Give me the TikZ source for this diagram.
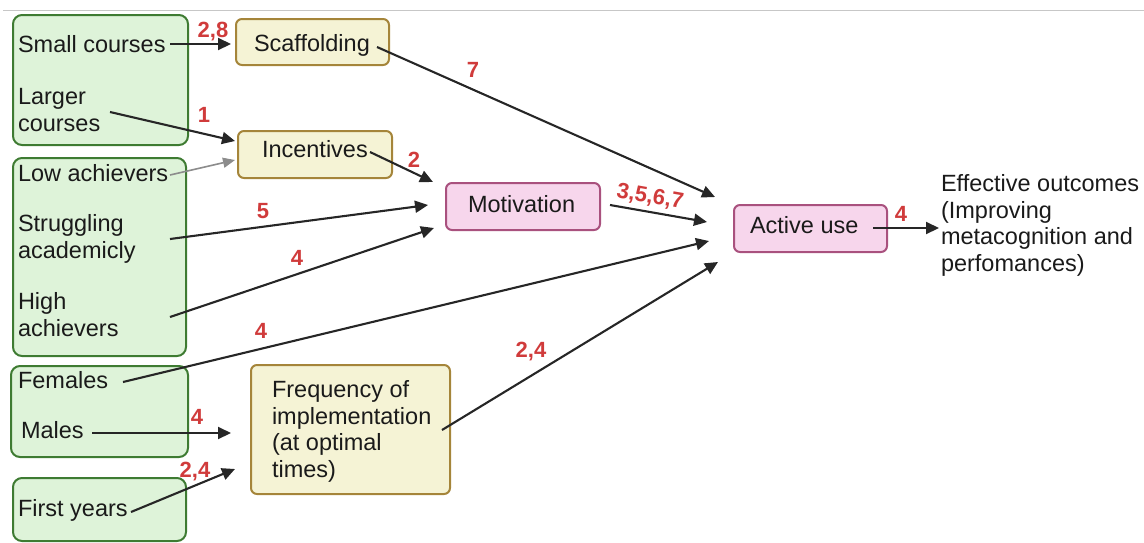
\documentclass[tikz,border=0pt]{standalone}
\usepackage{fontspec}
\setmainfont{Liberation Sans}
\usetikzlibrary{arrows.meta}
\definecolor{gfill}{HTML}{DEF3D9}
\definecolor{gbord}{HTML}{3E7B32}
\definecolor{yfill}{HTML}{F5F3D5}
\definecolor{ybord}{HTML}{A5853A}
\definecolor{pfill}{HTML}{F7D6EC}
\definecolor{pbord}{HTML}{A9517E}
\definecolor{numred}{HTML}{D03B3B}
\definecolor{arrc}{HTML}{262626}
\definecolor{txtc}{HTML}{1A1A1A}
\begin{document}
\begin{tikzpicture}[x=1pt,y=-1pt,
  every node/.style={inner sep=0pt, outer sep=0pt},
  txt/.style={anchor=base west, font=\fontsize{23.5}{26.5}\selectfont, text=txtc, align=left},
  gbox/.style={draw=gbord, fill=gfill, line width=2pt, rounded corners=9pt},
  ybox/.style={draw=ybord, fill=yfill, line width=2pt, rounded corners=6pt},
  pbox/.style={draw=pbord, fill=pfill, line width=2pt, rounded corners=6pt},
  num/.style={anchor=base, font=\fontsize{22}{25}\selectfont\bfseries, text=numred},
  arr/.style={-{Triangle[length=13pt,width=12pt]}, line width=2.1pt, draw=arrc},
  grayarr/.style={-{Triangle[length=12pt,width=10pt]}, line width=1.6pt, draw=black!45},
]
\useasboundingbox (0,0) rectangle (1144,542);
\draw[black!22, line width=1pt] (3,10.5) -- (1144,10.5);

% boxes
\node[gbox, minimum width=175pt, minimum height=130pt] (gA) at (100.5,80) {};
\node[gbox, minimum width=173pt, minimum height=198pt] (gB) at (99.5,257) {};
\node[gbox, minimum width=177pt, minimum height=91pt] (gC) at (99.5,411.5) {};
\node[gbox, minimum width=173pt, minimum height=63pt] (gD) at (99.5,509.5) {};
\node[ybox, minimum width=153pt, minimum height=46pt] (yS) at (312.5,42) {};
\node[ybox, minimum width=154pt, minimum height=47pt] (yI) at (315,154.5) {};
\node[ybox, minimum width=199pt, minimum height=129pt] (yF) at (350.5,429.5) {};
\node[pbox, minimum width=154pt, minimum height=47pt] (pM) at (523,206.5) {};
\node[pbox, minimum width=153pt, minimum height=47pt] (pA) at (810.5,228.5) {};

% texts (multi-line nodes: base = last line's baseline)
\node[txt] (tSmall) at (18,52) {Small courses};
\node[txt] (tLarger) at (18,131) {Larger\\courses};
\node[txt] (tLow) at (18,181) {Low achievers};
\node[txt] (tStrug) at (18,258) {Struggling\\academicly};
\node[txt] (tHigh) at (18,336) {High\\achievers};
\node[txt] (tFem) at (18,388) {Females};
\node[txt] (tMal) at (21,438) {Males};
\node[txt] (tFirst) at (18,516) {First years};
\node[txt] (tScaf) at (254,51) {Scaffolding};
\node[txt] (tInc) at (262,157) {Incentives};
\node[txt] (tMot) at (468,212) {Motivation};
\node[txt] (tAct) at (750,233) {Active use};
\node[txt] (tFreq) at (272,477) {Frequency of\\implementation\\(at optimal\\times)};
\node[txt] (tEff) at (941,271) {Effective outcomes\\(Improving\\metacognition and\\perfomances)};

% connector end points
\coordinate (s1) at (170,44);  \coordinate (e1) at (231,44);
\coordinate (s2) at (110,112); \coordinate (e2) at (235,141);
\coordinate (s3) at (170,175); \coordinate (e3) at (235,160);
\coordinate (s4) at (377,47);  \coordinate (e4) at (715,197);
\coordinate (s5) at (370,152); \coordinate (e5) at (433,182);
\coordinate (s6) at (170,239); \coordinate (e6) at (428,205);
\coordinate (s7) at (170,317); \coordinate (e7) at (434,228);
\coordinate (s8) at (123,382); \coordinate (e8) at (709,241);
\coordinate (s9) at (92,433);  \coordinate (e9) at (231,433);
\coordinate (s10) at (131,512); \coordinate (e10) at (235,469);
\coordinate (s11) at (442,430); \coordinate (e11) at (718,262);
\coordinate (s12) at (610,205); \coordinate (e12) at (707,222);
\coordinate (s13) at (873,228); \coordinate (e13) at (939,228);

% connectors
\draw[arr] (s1) -- (e1);
\draw[arr] (s2) -- (e2);
\draw[grayarr] (s3) -- (e3);
\draw[arr] (s4) -- (e4);
\draw[arr] (s5) -- (e5);
\draw[arr] (s6) -- (e6);
\draw[arr] (s7) -- (e7);
\draw[arr] (s8) -- (e8);
\draw[arr] (s9) -- (e9);
\draw[arr] (s10) -- (e10);
\draw[arr] (s11) -- (e11);
\draw[arr] (s12) -- (e12);
\draw[arr] (s13) -- (e13);

% labels
\node[num] (n1) at (213,37) {2,8};
\node[num] (n2) at (204,122) {1};
\node[num] (n3) at (414,167) {2};
\node[num] (n4) at (263,218) {5};
\node[num] (n5) at (297,265) {4};
\node[num] (n6) at (261,338) {4};
\node[num] (n7) at (197,424) {4};
\node[num] (n8) at (195,477) {2,4};
\node[num] (n9) at (531,357) {2,4};
\node[num] (n10) at (473,77) {7};
\node[num] (n11) at (901,221) {4};
\node[num, anchor=center, rotate=-10] (n12) at (650,197) {3,5,6,7};
\end{tikzpicture}
\end{document}
